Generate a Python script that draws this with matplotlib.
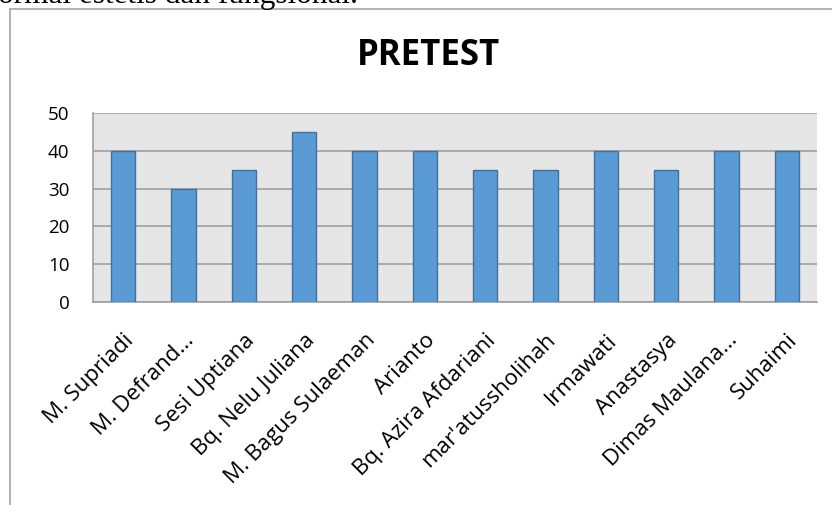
import matplotlib.pyplot as plt
from matplotlib.lines import Line2D

# Datos del pretest
nama = ['M. Supriadi', 'M. Defrand...', 'Sesi Uptiana', 'Bq. Nelu Juliana',
        'M. Bagus Sulaeman', 'Arianto', 'Bq. Azira Afdariani', "mar'atussholihah",
        'Irmawati', 'Anastasya', 'Dimas Maulana...', 'Suhaimi']
nilai = [40, 30, 35, 45, 40, 40, 35, 35, 40, 35, 40, 40]
ticks_y = [0, 10, 20, 30, 40, 50]

plt.rcParams['font.family'] = ['Open Sans', 'DejaVu Sans']

fig = plt.figure(figsize=(8.32, 5.05), dpi=100)
W, H = 832, 505

# Texto del documento cortado arriba
fig.text(-2 / W, 1 - 3 / H, 'ormal estetis dan fungsional.', family='Liberation Serif',
         fontsize=22.5, va='baseline', ha='left', color='black')

# Marco del gráfico
fig.add_artist(Line2D([10 / W, 10 / W], [0, 1 - 9 / H], color='#A6A6A6', lw=1.2))
fig.add_artist(Line2D([10 / W, 1.0], [1 - 9 / H, 1 - 9 / H], color='#A6A6A6', lw=1.2))

ax = fig.add_axes([93 / W, (H - 302) / H, (817 - 93) / W, (302 - 113) / H])
ax.set_facecolor('#E6E6E6')

x = range(len(nama))
ax.bar(x, nilai, width=0.4, color='#5B9BD5', edgecolor='#41719C', linewidth=1, zorder=3)

ax.set_ylim(0, 50)
ax.set_xlim(-0.5, len(nama) - 0.5)
ax.set_yticks(ticks_y)
ax.yaxis.grid(True, color='#A0A0A0', linewidth=1.2, zorder=0)
ax.set_axisbelow(True)

for s in ['top', 'right']:
    ax.spines[s].set_visible(False)
ax.spines['left'].set_color('#A0A0A0')
ax.spines['bottom'].set_color('#A0A0A0')
ax.spines['left'].set_linewidth(1.2)
ax.spines['bottom'].set_linewidth(1.2)

ax.tick_params(axis='y', length=0, pad=17, labelsize=13.5)
ax.tick_params(axis='x', length=0, pad=20)
ax.set_xticks(list(x))
ax.set_xticklabels(nama, rotation=45, ha='right', rotation_mode='anchor', fontsize=16)

fig.text(429 / W, 1 - 56 / H, 'PRETEST', fontsize=25, fontweight='bold', ha='center', va='center')

fig.savefig('out.png', dpi=100)
